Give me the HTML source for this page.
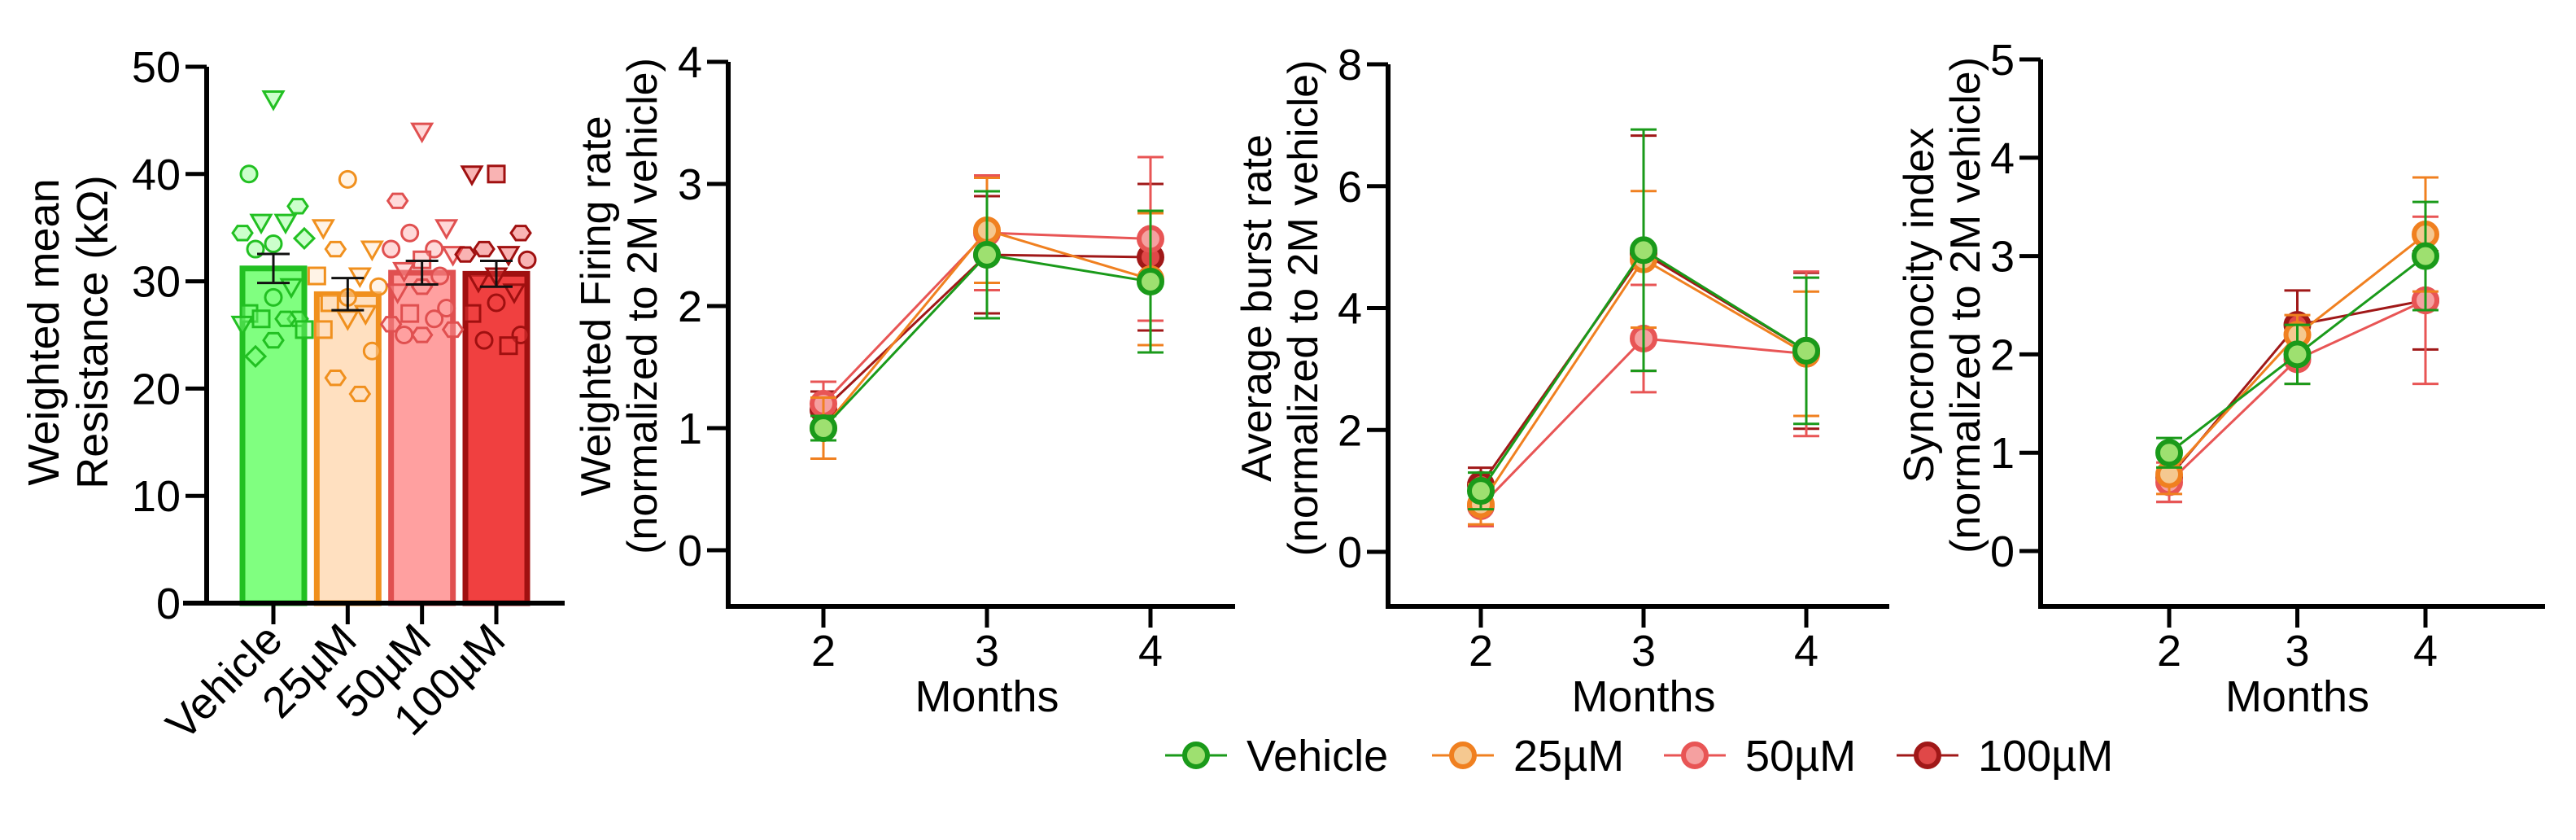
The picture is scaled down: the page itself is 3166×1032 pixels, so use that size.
<!DOCTYPE html>
<html><head><meta charset="utf-8"><style>
html,body{margin:0;padding:0;background:#fff;}
svg{display:block;font-family:"Liberation Sans",Arial,sans-serif;}
</style></head><body>
<svg id="c" width="3166" height="1032" viewBox="0 0 3166 1032" xmlns="http://www.w3.org/2000/svg"></svg>
<script>
// ---------- Data ----------
const barCategories = ["Vehicle","25µM","50µM","100µM"];
const barMeans = [31.2, 28.8, 30.8, 30.7];
const barSem = [1.35, 1.5, 1.1, 1.2];
const vehPts = [47,40,37,35.5,35.5,34.5,34,33.5,33,29.5,28.5,27,26.5,26.5,26.5,26,25.5,24.5,23];
const vehShapes = ["t","c","h","t","t","h","d","c","c","t","c","s","h","s","h","t","s","h","d"];
const p25Pts = [39.5,35,33,33,30.5,30.5,29.5,28.5,28,27,26.5,25.5,23.5,21,19.5];
const p25Shapes = ["c","t","t","h","t","s","c","c","s","t","t","s","c","h","h"];
const p50Pts = [44,37.5,35,34.5,33,33,32.5,32,31,30.5,29.5,29,27.5,27,26.5,26,25.5,25,25];
const p50Shapes = ["t","h","t","c","c","c","t","s","t","c","h","t","c","s","c","h","h","h","c"];
const p100Pts = [40,40,34.5,33,32.5,32.5,32,30.5,30,29,28,27,25,24.5,24];
const p100Shapes = ["s","t","h","h","t","h","c","t","t","t","c","s","c","c","s"];
const months = [2,3,4];
const seriesNames = ["Vehicle","25µM","50µM","100µM"];
// Firing rate
const fireMean = [[1.0,2.42,2.2],[1.0,2.62,2.22],[1.2,2.6,2.55],[1.15,2.42,2.4]];
const fireSem  = [[0.1,0.52,0.58],[0.25,0.43,0.54],[0.18,0.47,0.67],[0.15,0.48,0.6]];
// Burst rate
const burstMean = [[1.0,4.95,3.3],[0.78,4.8,3.25],[0.75,3.5,3.25],[1.1,4.9,3.3]];
const burstSem  = [[0.3,1.98,1.2],[0.33,1.12,1.02],[0.33,0.88,1.35],[0.28,1.93,1.28]];
// Synchronicity
const syncMean = [[1.0,2.0,3.0],[0.78,2.2,3.22],[0.7,1.95,2.55],[0.75,2.3,2.55]];
const syncSem  = [[0.15,0.3,0.55],[0.2,0.2,0.58],[0.2,0.25,0.85],[0.25,0.35,0.5]];
// ---------- Styles ----------
const strokeCol = ["#1a9a1a","#f08020","#e85555","#a01818"];
const fillCol   = ["#9ee070","#f5c890","#f5a0a0","#e04848"];
const barFill   = ["#80ff80","#ffe0c0","#ffa0a0","#f04040"];
const barStroke = ["#22c022","#f0901e","#e05050","#a01010"];

const NS="http://www.w3.org/2000/svg";
const svg=document.getElementById("c");
function mk(tag,attrs,parent){const e=document.createElementNS(NS,tag);for(const k in attrs)e.setAttribute(k,attrs[k]);(parent||svg).appendChild(e);return e;}
function txt(s,attrs,parent){const e=mk("text",attrs,parent);e.textContent=s;return e;}

// ---------- Panel 1: bar chart ----------
const g1=mk("g",{});


const p1={x0:254,y0:741,y50:82};
function y1(v){return p1.y0-(p1.y0-p1.y50)*v/50;}
const barX=[336,428,519,610];
function x1(i){return barX[0]+i*(barX[3]-barX[0])/3;}
barMeans.forEach((m,i)=>{
  const r=mk("rect",{x:x1(i)-38,y:y1(m),width:76,height:y1(0)-y1(m),fill:barFill[i],stroke:barStroke[i],"stroke-width":7},g1);
  
  
});
function shape(s,cx,cy,col,fill,parent){
  const r=10;let e;
  if(s==="c")e=mk("circle",{cx,cy,r},parent);
  else if(s==="s")e=mk("rect",{x:cx-r,y:cy-r,width:2*r,height:2*r},parent);
  else if(s==="t")e=mk("polygon",{points:`${cx-12},${cy-9} ${cx+12},${cy-9} ${cx},${cy+12}`},parent);
  else if(s==="d")e=mk("polygon",{points:`${cx},${cy-12} ${cx+12},${cy} ${cx},${cy+12} ${cx-12},${cy}`},parent);
  else {let p=[];for(let k=0;k<6;k++){const a=Math.PI/3*k;p.push((cx+12*Math.cos(a))+","+(cy+10*Math.sin(a)));}e=mk("polygon",{points:p.join(" ")},parent);}
  e.setAttribute("fill",fill);e.setAttribute("fill-opacity","0.4");e.setAttribute("stroke",col);e.setAttribute("stroke-width","3");
  return e;
}
const allPts=[vehPts,p25Pts,p50Pts,p100Pts];
const allShapes=[vehShapes,p25Shapes,p50Shapes,p100Shapes];
const jit=[0,-30,30,-15,15,-38,38,0,-22,22];
allPts.forEach((arr,i)=>{
  arr.forEach((v,j)=>{
    const e=shape(allShapes[i][j],x1(i)+jit[j%jit.length],y1(v),barStroke[i],barFill[i],g1);
    
    
  });
  const m=barMeans[i],s=barSem[i],cx=x1(i);
  const eb=mk("path",{d:`M${cx},${y1(m+s)}V${y1(m-s)}M${cx-20},${y1(m+s)}H${cx+20}M${cx-20},${y1(m-s)}H${cx+20}`,stroke:"#111","stroke-width":3,fill:"none"},g1);
  
  
});
const ax1=mk("path",{d:`M${p1.x0},${p1.y50}V${p1.y0}M225,${p1.y0}H694`,stroke:"#000","stroke-width":6,fill:"none"},g1);


[0,10,20,30,40,50].forEach(v=>{
  mk("line",{x1:p1.x0-26,x2:p1.x0,y1:y1(v),y2:y1(v),stroke:"#000","stroke-width":5},g1);
  const t=txt(String(v),{x:p1.x0-32,y:y1(v)+19,"text-anchor":"end","font-size":54},g1);
  
  
});
barCategories.forEach((c,i)=>{
  mk("line",{x1:x1(i),x2:x1(i),y1:p1.y0,y2:p1.y0+26,stroke:"#000","stroke-width":5},g1);
  const t=txt(c,{x:x1(i)+14,y:p1.y0+48,"text-anchor":"end","font-size":54,transform:`rotate(-45 ${x1(i)+14} ${p1.y0+48})`},g1);
  
  
});
const yt1=txt("",{transform:"translate(72,408) rotate(-90)","text-anchor":"middle","font-size":54},g1);


mk("tspan",{x:0,y:0},yt1).textContent="Weighted mean";
mk("tspan",{x:0,y:60},yt1).textContent="Resistance (kΩ)";

// ---------- Line panels ----------
function linePanel(cfg){
  const g=mk("g",{});
  
  
  const yv=v=>cfg.yZero-(cfg.yZero-cfg.yTop)*v/cfg.yMax;
  const xv=m=>cfg.x2+(m-2)*(cfg.x4-cfg.x2)/2;
  const axBottom=745;
  const ax=mk("path",{d:`M${cfg.ax},${cfg.yTop}V${axBottom}H${cfg.axEnd}`,stroke:"#000","stroke-width":6,fill:"none"},g);
  
  
  cfg.ticks.forEach(v=>{
    mk("line",{x1:cfg.ax-26,x2:cfg.ax,y1:yv(v),y2:yv(v),stroke:"#000","stroke-width":5},g);
    const t=txt(String(v),{x:cfg.ax-32,y:yv(v)+19,"text-anchor":"end","font-size":54},g);
    
    
  });
  months.forEach(m=>{
    mk("line",{x1:xv(m),x2:xv(m),y1:axBottom,y2:axBottom+26,stroke:"#000","stroke-width":5},g);
    const t=txt(String(m),{x:xv(m),y:818,"text-anchor":"middle","font-size":54},g);
    
    
  });
  const xt=txt("Months",{x:(xv(2)+xv(4))/2,y:874,"text-anchor":"middle","font-size":54},g);
  
  
  const yt=txt("",{transform:`translate(${cfg.titleX},${(cfg.yTop+yv(0))/2}) rotate(-90)`,"text-anchor":"middle","font-size":52},g);
  
  
  mk("tspan",{x:0,y:0},yt).textContent=cfg.title;
  mk("tspan",{x:0,y:57},yt).textContent="(normalized to 2M vehicle)";
  [3,2,1,0].forEach(si=>{
    const sg=mk("g",{},g);
    
    
    const mean=cfg.mean[si],sem=cfg.sem[si];
    const pts=months.map((m,k)=>xv(m)+","+yv(mean[k])).join(" ");
    mk("polyline",{points:pts,fill:"none",stroke:strokeCol[si],"stroke-width":3},sg);
    months.forEach((m,k)=>{
      const cx=xv(m),hi=yv(mean[k]+sem[k]),lo=yv(mean[k]-sem[k]);
      mk("path",{d:`M${cx},${hi}V${lo}M${cx-16},${hi}H${cx+16}M${cx-16},${lo}H${cx+16}`,stroke:strokeCol[si],"stroke-width":3,fill:"none"},sg);
      const c=mk("circle",{cx,cy:yv(mean[k]),r:14,fill:fillCol[si],stroke:strokeCol[si],"stroke-width":6},sg);
      
      
    });
  });
}
linePanel({name:"firing-rate-chart",ax:895,yTop:76,yZero:676,yMax:4,ticks:[0,1,2,3,4],x2:1012,x4:1414,axEnd:1518,titleX:750,title:"Weighted Firing rate",mean:fireMean,sem:fireSem});
linePanel({name:"burst-rate-chart",ax:1706,yTop:79,yZero:678,yMax:8,ticks:[0,2,4,6,8],x2:1820,x4:2220,axEnd:2322,titleX:1562,title:"Average burst rate",mean:burstMean,sem:burstSem});
linePanel({name:"synchronicity-chart",ax:2508,yTop:73,yZero:677,yMax:5,ticks:[0,1,2,3,4,5],x2:2666,x4:2981,axEnd:3128,titleX:2376,title:"Syncronocity index",mean:syncMean,sem:syncSem});

// ---------- Legend ----------
const lg=mk("g",{});


const legX=[1470,1798,2083,2369];
seriesNames.forEach((n,i)=>{
  const e=mk("g",{},lg);
  
  
  const cx=legX[i],cy=928;
  mk("line",{x1:cx-38,x2:cx+38,y1:cy,y2:cy,stroke:strokeCol[i],"stroke-width":3},e);
  mk("circle",{cx,cy,r:14,fill:fillCol[i],stroke:strokeCol[i],"stroke-width":6},e);
  txt(n,{x:cx+62,y:cy+19,"font-size":54},e);
});
</script>
</body></html>
